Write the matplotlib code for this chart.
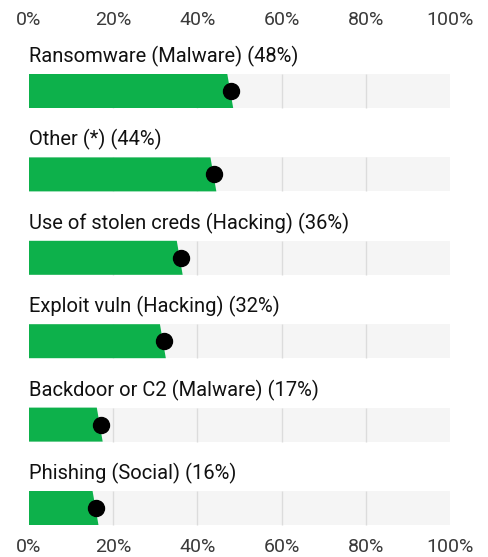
import matplotlib.pyplot as plt
from matplotlib.patches import Polygon

plt.rcParams['font.family'] = ['Roboto', 'DejaVu Sans']

labels = ['Ransomware (Malware)', 'Other (*)', 'Use of stolen creds (Hacking)',
          'Exploit vuln (Hacking)', 'Backdoor or C2 (Malware)', 'Phishing (Social)']
values = [48, 44, 36, 32, 17, 16]
ticks = [0, 20, 40, 60, 80, 100]

green = '#0db14b'
track = '#f5f5f5'
grid = '#dcdcdc'

fig = plt.figure(figsize=(4.89, 5.57), dpi=100)
# axes in pixel-like y units (top of figure = 0)
y_top, y_bot = 35, 532
ax = fig.add_axes([29 / 489, 1 - y_bot / 557, 421 / 489, (y_bot - y_top) / 557])
ax.set_xlim(0, 100)
ax.set_ylim(y_bot, y_top)

step = 83.4
bar_h = 34
for i, (lab, v) in enumerate(zip(labels, values)):
    top = 74 + step * i
    bot = top + bar_h
    ax.add_patch(plt.Rectangle((0, top), 100, bar_h, color=track, lw=0, zorder=1))
    ax.vlines(ticks[1:-1], top, bot, color=grid, lw=1, zorder=2)
    # green slab with slanted end
    ax.add_patch(Polygon([(0, top), (v - 0.9, top), (v + 0.5, bot), (0, bot)],
                         closed=True, color=green, lw=0, zorder=3))
    ax.plot(v, top + bar_h / 2, 'o', color='black', ms=11.5, zorder=4)
    ax.text(0, top - 7, f'{lab} ({v}%)', fontsize=14.5, color='#111111',
            va='bottom', ha='left')

ax.set_xticks(ticks)
ax.set_xticklabels([f'{t}%' for t in ticks])
ax.set_yticks([])
ax.tick_params(axis='x', length=0, labeltop=True, labelbottom=True,
               labelsize=14, labelcolor='#3a3a3a', pad=4)
for s in ax.spines.values():
    s.set_visible(False)

fig.savefig('out.png', dpi=100)
